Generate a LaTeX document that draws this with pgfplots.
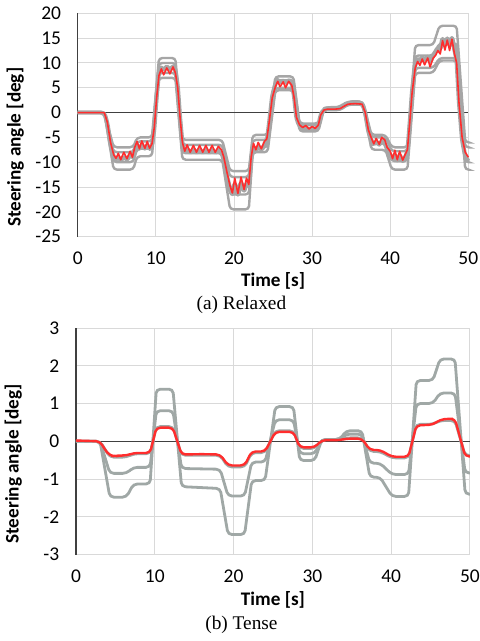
\documentclass[border=0pt]{standalone}
\usepackage{pgfplots}
\pgfplotsset{compat=1.18}
\usepackage{fontspec}
\setmainfont{Carlito}
\newfontfamily\timesfont{Liberation Serif}

\definecolor{gridgray}{RGB}{217,217,217}
\definecolor{zeroline}{RGB}{64,64,64}
\definecolor{relgray}{RGB}{166,166,166}
\definecolor{tensegray}{RGB}{160,168,166}
\definecolor{exred}{RGB}{255,45,45}

\pgfplotsset{
  steer/.style={
    scale only axis,
    xmin=0, xmax=50, xtick={0,10,...,50},
    grid=major, grid style={draw=gridgray, line width=0.7pt},
    axis line style={draw=none},
    major tick length=0pt,
    tick label style={font=\fontsize{14.6}{16}\selectfont},
    /pgf/number format/assume math mode=true,
    xlabel={Time [s]}, ylabel={Steering angle [deg]},
    label style={font=\fontsize{14.4}{16}\selectfont\bfseries},
    xlabel style={at={(axis description cs:0.5,-0.2)}, anchor=center},
    yticklabel style={xshift=-9pt},
    xticklabel style={yshift=-8pt},
    extra y ticks={0}, extra y tick labels={},
    extra y tick style={grid=major, grid style={draw=zeroline, line width=0.8pt}},
    extra x ticks={0}, extra x tick labels={},
    extra x tick style={grid=major, grid style={draw=zeroline, line width=0.8pt}},
    clip=false,
  }
}

\begin{document}
\begin{tikzpicture}
\path[use as bounding box] (-58.3pt,10pt) rectangle (301pt,-470.8pt);

% (a) relaxed
\begin{axis}[steer,
  at={(0,0)}, anchor=north west,
  width=293pt, height=167.5pt,
  ymin=-25, ymax=20, ytick={-25,-20,...,20},
  ylabel style={at={(axis description cs:-0.16,0.4)}, anchor=center},
  every axis plot/.append style={rounded corners=2.5pt},
]
% upper
\addplot[relgray, line width=1.8pt] coordinates {
(0,0) (3.4,0) (4.6,-7) (7.1,-7) (7.6,-5) (9.5,-5) (10.4,11) (12.5,11)
(13.4,-5.5) (18.5,-5.5) (19.5,-11.8) (21.9,-11.8) (22.4,-4.5) (24.3,-4.5)
(25.3,7.3) (27.6,7.3) (28.4,-2.2) (30.8,-2.2) (31.5,0.9) (33.6,0.9)
(34.6,2.2) (36.5,2.2) (37.6,-4.5) (39.4,-4.5) (40.2,-7) (42.2,-7)
(43.2,13.6) (45.5,13.6) (46.3,17.5) (48.5,17.5) (49.6,-6) (50,-6)};
% lower
\addplot[relgray, line width=1.8pt] coordinates {
(0,0) (3.4,0) (4.6,-11.5) (7.1,-11.5) (7.6,-8.8) (9.5,-8.8) (10.4,7) (12.5,7)
(13.4,-9.5) (18.5,-9.5) (19.5,-19.5) (21.9,-19.5) (22.4,-8) (24.3,-8)
(25.3,4.5) (27.6,4.5) (28.4,-3.8) (30.8,-3.8) (31.5,0.5) (33.6,0.5)
(34.6,1.6) (36.5,1.6) (37.6,-7.5) (39.4,-7.5) (40.2,-11.5) (42.2,-11.5)
(43.2,8) (45.5,8) (46.3,10.5) (48.5,10.5) (49.6,-11.5) (50,-11.5)};
% near mean, above
\addplot[relgray, line width=1.8pt] coordinates {
(0,0) (3.4,0) (4.6,-8) (7.1,-8) (7.6,-5.8) (9.5,-5.8) (10.4,10) (12.5,10)
(13.4,-6.5) (18.5,-6.5) (19.5,-13) (21.9,-13) (22.4,-5.5) (24.3,-5.5)
(25.3,6.5) (27.6,6.5) (28.4,-2.5) (30.8,-2.5) (31.5,0.8) (33.6,0.8)
(34.6,2) (36.5,2) (37.6,-5) (39.4,-5) (40.2,-7.8) (42.2,-7.8)
(43.2,11.5) (45.5,11.5) (46.3,14) (48.5,14) (49.6,-7) (50,-7)};
% near mean, below
\addplot[relgray, line width=1.8pt] coordinates {
(0,0) (3.4,0) (4.6,-10) (7.1,-10) (7.6,-7.3) (9.5,-7.3) (10.4,8) (12.5,8)
(13.4,-8.2) (18.5,-8.2) (19.5,-16.5) (21.9,-16.5) (22.4,-7) (24.3,-7)
(25.3,5) (27.6,5) (28.4,-3.2) (30.8,-3.2) (31.5,0.6) (33.6,0.6)
(34.6,1.7) (36.5,1.7) (37.6,-6.2) (39.4,-6.2) (40.2,-9.8) (42.2,-9.8)
(43.2,9) (45.5,9) (46.3,11) (48.5,11) (49.6,-10) (50,-10)};
% subject close to the mean, with the same wobble
\addplot[relgray, line width=3.2pt, line join=round] coordinates {
(0,0) (3.4,0) (3.8,-2.2) (4.2,-6.5) (4.6,-9) (4.9,-9.8) (5.2,-8.6) (5.5,-10)
(5.9,-8.6) (6.3,-9.8) (6.7,-8.3) (7.0,-9.3) (7.3,-7.3) (7.6,-6.3) (7.9,-7.6)
(8.2,-6.2) (8.6,-7.6) (8.9,-6.3) (9.2,-7.5) (9.5,-6.8) (9.8,-3.2) (10.1,3.4)
(10.4,8.2) (10.7,9.4) (11.0,8.3) (11.4,9.6) (11.8,8.4) (12.2,9.6) (12.5,8.6)
(12.8,5.3) (13.1,-1.2) (13.4,-6.4) (13.7,-8.2) (14.0,-7) (14.4,-8.4) (14.8,-7.1)
(15.2,-8.4) (15.6,-7.1) (16.0,-8.4) (16.4,-7.1) (16.8,-8.4) (17.2,-7.1) (17.6,-8.4)
(18.0,-7.3) (18.4,-8) (18.7,-9.6) (19.1,-12.8) (19.5,-15.4) (19.8,-16.8)
(20.1,-14) (20.5,-16.9) (20.9,-13.8) (21.3,-16.1) (21.6,-14) (21.9,-15.2)
(22.2,-9.5) (22.5,-6.8) (22.8,-8) (23.1,-6.6) (23.5,-7.8) (23.9,-6.3)
(24.2,-5.8) (24.5,-2.2) (24.9,3.4) (25.3,5.8) (25.6,6.9) (25.9,5.8) (26.3,6.8)
(26.6,5.6) (27.0,6.8) (27.4,6) (27.7,3.3) (28.0,-1.2) (28.4,-2.8) (28.8,-3.4)
(29.2,-3) (29.6,-3.6) (30.0,-3.1) (30.4,-3.5) (30.8,-2.8) (31.1,-0.4)
(31.5,0.7) (32.0,0.9) (33.0,0.9) (33.6,1) (34.0,1.5) (34.6,2) (35.5,2.1)
(36.4,2) (36.8,0) (37.2,-3.8) (37.6,-5.7) (37.9,-6.7) (38.2,-5.6)
(38.6,-6.8) (38.9,-5.5) (39.3,-6) (39.6,-7.5) (40.0,-8.3) (40.3,-9.8)
(40.6,-8.2) (40.9,-10) (41.2,-8.3) (41.6,-10.1) (41.9,-9) (42.2,-8)
(42.5,-2.2) (42.8,4.3) (43.2,9.8) (43.5,11) (43.8,10.2) (44.1,11.5) (44.4,10.3)
(44.8,11.6) (45.1,10) (45.5,11.6) (45.8,12.2) (46.1,13.2) (46.4,12.5)
(46.7,15.2) (47.0,13.3) (47.3,15.3) (47.6,13.2) (47.9,15.4) (48.2,12.8)
(48.5,10.6) (48.8,2.2) (49.2,-5.5) (49.6,-8.8) (50,-9.8)};
% mean
\addplot[exred, line width=1.2pt, line join=round, rounded corners=0pt] coordinates {
(0,0) (3.4,0) (3.8,-2) (4.2,-6) (4.6,-8.5) (4.9,-9.2) (5.2,-8.2) (5.5,-9.5)
(5.9,-8) (6.3,-9.3) (6.7,-7.8) (7.0,-9) (7.3,-7) (7.6,-5.8) (7.9,-7.3)
(8.2,-5.7) (8.6,-7.2) (8.9,-5.8) (9.2,-7.2) (9.5,-6.3) (9.8,-3) (10.1,3)
(10.4,7.5) (10.7,8.8) (11.0,7.6) (11.4,9) (11.8,7.8) (12.2,9.2) (12.5,8)
(12.8,5) (13.1,-1) (13.4,-6) (13.7,-7.8) (14.0,-6.5) (14.4,-8) (14.8,-6.6)
(15.2,-8) (15.6,-6.6) (16.0,-8) (16.4,-6.6) (16.8,-8) (17.2,-6.6) (17.6,-8)
(18.0,-6.8) (18.4,-7.5) (18.7,-9) (19.1,-12) (19.5,-14.8) (19.8,-16.2)
(20.1,-13.2) (20.5,-16.3) (20.9,-13) (21.3,-15.5) (21.6,-13.2) (21.9,-14.5)
(22.2,-9) (22.5,-6.2) (22.8,-7.5) (23.1,-6) (23.5,-7.3) (23.9,-5.8)
(24.2,-5.3) (24.5,-2) (24.9,3) (25.3,5.2) (25.6,6.3) (25.9,5.2) (26.3,6.2)
(26.6,5) (27.0,6.3) (27.4,5.5) (27.7,3) (28.0,-1) (28.4,-2.5) (28.8,-3)
(29.2,-2.6) (29.6,-3.3) (30.0,-2.8) (30.4,-3.2) (30.8,-2.5) (31.1,-0.5)
(31.5,0.5) (32.0,0.7) (33.0,0.7) (33.6,0.8) (34.0,1.2) (34.6,1.7) (35.5,1.8)
(36.4,1.7) (36.8,0) (37.2,-3.5) (37.6,-5.2) (37.9,-6.3) (38.2,-5.2)
(38.6,-6.4) (38.9,-5) (39.3,-5.5) (39.6,-7) (40.0,-7.8) (40.3,-9.3)
(40.6,-7.6) (40.9,-9.5) (41.2,-7.8) (41.6,-9.6) (41.9,-8.5) (42.2,-7.5)
(42.5,-2) (42.8,4) (43.2,9) (43.5,10.3) (43.8,9.5) (44.1,10.8) (44.4,9.6)
(44.8,11) (45.1,9.2) (45.5,11) (45.8,11.5) (46.1,12.5) (46.4,11.8)
(46.7,14.5) (47.0,12.6) (47.3,14.6) (47.6,12.5) (47.9,14.8) (48.2,12)
(48.5,10) (48.8,2) (49.2,-5) (49.6,-8) (50,-9)};
\node[font=\timesfont\fontsize{14.5}{16}\selectfont] at (axis description cs:0.419,-0.306) {(a) Relaxed};
\end{axis}

% (b) tense
\begin{axis}[steer,
  at={(-1.3pt,-236pt)}, anchor=north west,
  width=295.5pt, height=170pt,
  ymin=-3, ymax=3, ytick={-3,-2,...,3},
  ylabel style={at={(axis description cs:-0.159,0.4)}, anchor=center},
  every axis plot/.append style={rounded corners=3pt},
]
\addplot[tensegray, line width=2.1pt] coordinates {
(0,0) (3.05,0) (4.3,-1.48) (6.4,-1.48) (7.3,-1.13) (9.4,-1.13) (10.2,1.38) (12.3,1.38)
(13.4,-1.2) (18.3,-1.25) (19.3,-2.47) (21.4,-2.47) (22.3,-1.04) (24.0,-1.04)
(25.3,0.92) (27.6,0.92) (28.4,-0.51) (30.3,-0.51) (31.2,0.05) (33.5,0.05)
(34.3,0.28) (36.3,0.28) (37.3,-0.95) (38.6,-0.95) (40.1,-1.46) (42.2,-1.46)
(43.2,1.61) (45.3,1.61) (46.2,2.18) (48.1,2.18) (49.4,-1.40) (50,-1.40)};
\addplot[tensegray, line width=2.1pt] coordinates {
(0,0) (3.05,0) (4.3,-0.85) (6.4,-0.85) (7.3,-0.69) (9.4,-0.69) (10.2,0.81) (12.3,0.81)
(13.4,-0.72) (18.3,-0.74) (19.3,-1.45) (21.4,-1.45) (22.3,-0.55) (24.0,-0.55)
(25.3,0.57) (27.6,0.57) (28.4,-0.33) (30.3,-0.33) (31.2,0.05) (33.5,0.05)
(34.3,0.19) (36.3,0.19) (37.3,-0.58) (38.6,-0.58) (40.1,-0.88) (42.2,-0.88)
(43.2,1.00) (45.3,1.00) (46.2,1.28) (48.1,1.28) (49.4,-0.84) (50,-0.84)};
\addplot[tensegray, line width=2.1pt] coordinates {
(0,0) (3.05,0) (4.3,-0.42) (6.4,-0.42) (7.3,-0.33) (9.4,-0.33) (10.2,0.39) (12.3,0.39)
(13.4,-0.37) (18.3,-0.37) (19.3,-0.68) (21.4,-0.68) (22.3,-0.30) (24.0,-0.30)
(25.3,0.28) (27.6,0.28) (28.4,-0.19) (30.3,-0.19) (31.2,0.04) (33.5,0.04)
(34.3,0.09) (36.3,0.09) (37.3,-0.27) (38.6,-0.27) (40.1,-0.44) (42.2,-0.44)
(43.2,0.45) (45.3,0.45) (46.2,0.55) (48.1,0.55) (49.4,-0.38) (50,-0.38)};
\addplot[exred, line width=1.8pt, line join=round] coordinates {
(0,0.02) (3.05,0) (3.6,-0.2) (4.3,-0.38) (5.0,-0.40) (5.6,-0.37) (6.4,-0.38)
(7.3,-0.31) (9.4,-0.31) (10.2,0.36) (12.3,0.36) (13.4,-0.35) (16.0,-0.34)
(18.3,-0.35) (19.3,-0.64) (21.4,-0.64) (22.3,-0.27) (24.0,-0.27)
(25.3,0.25) (27.6,0.25) (28.4,-0.16) (30.3,-0.16) (31.2,0.03) (33.5,0.03)
(34.3,0.07) (36.3,0.07) (37.3,-0.23) (38.6,-0.23) (40.1,-0.41) (42.2,-0.41)
(43.2,0.42) (45.3,0.44) (46.2,0.57) (47.3,0.60) (48.1,0.59) (49.4,-0.40) (50,-0.40)};
\node[font=\timesfont\fontsize{14.5}{16}\selectfont] at (axis description cs:0.42,-0.31) {(b) Tense};
\end{axis}
\end{tikzpicture}
\end{document}
